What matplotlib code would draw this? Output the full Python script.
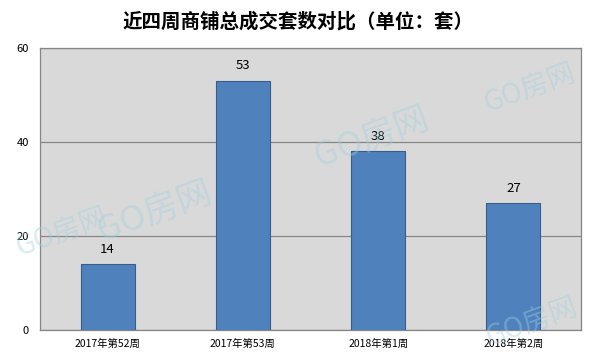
import matplotlib
matplotlib.use('Agg')

import matplotlib.pyplot as plt
import numpy as np

plt.rcParams['font.family'] = ['Noto Sans CJK SC', 'DejaVu Sans']

weeks = ["2017年第52周", "2017年第53周", "2018年第1周", "2018年第2周"]
deals = [14, 53, 38, 27]
yticks = [0, 20, 40, 60]
title = "近四周商铺总成交套数对比（单位：套）"

fig = plt.figure(figsize=(5.96, 3.58), dpi=100)
ax = fig.add_axes([40/596, 1 - 330/358, 541/596, 282/358])
ax.set_facecolor('#d9d9d9')

x = np.arange(len(weeks))
ax.bar(x, deals, width=0.4, color='#4f81bd', edgecolor='#385d8a', linewidth=0.8, zorder=3)
for xi, v in zip(x, deals):
	ax.text(xi, v + 1.8, str(v), ha='center', va='bottom', fontsize=9.5, color='#000000', zorder=4)

ax.set_xlim(-0.5, len(weeks) - 0.5)
ax.set_ylim(0, 60)
ax.set_yticks(yticks)
ax.set_xticks(x)
ax.set_xticklabels(weeks, fontsize=7.5)
ax.tick_params(axis='y', labelsize=8, length=0, pad=8)
ax.tick_params(axis='x', length=0, pad=6)
ax.yaxis.grid(True, color='#868686', linewidth=0.9, zorder=1)
for s in ax.spines.values():
	s.set_color('#868686')
	s.set_linewidth(0.9)

fig.text(0.5, 1 - 22/358, title, ha='center', va='center', fontsize=14, fontweight='bold')

# watermark
for wx, wy, fs in [(372, 138, 25), (155, 212, 25), (62, 232, 20), (530, 88, 20), (532, 322, 20)]:
	fig.text(wx/596, 1 - wy/358, "GO房网", ha='center', va='center', fontsize=fs,
		color='#9fd0e0', alpha=0.4, rotation=20, zorder=10)

plt.savefig("out.png", dpi=100)
